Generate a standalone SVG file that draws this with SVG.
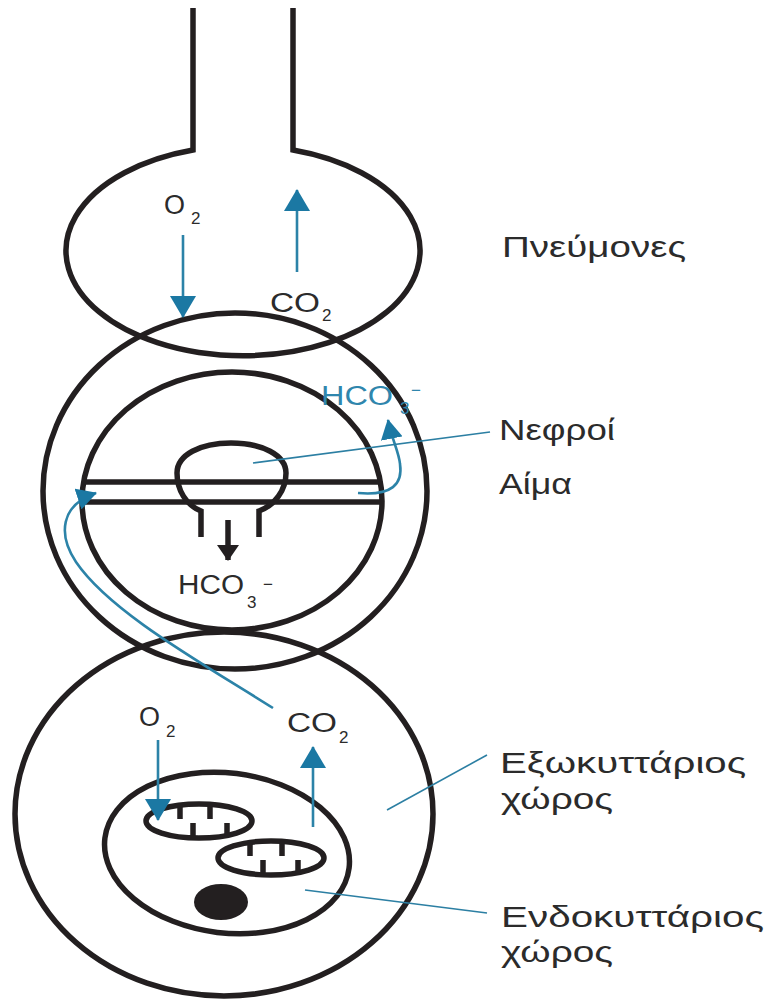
<svg xmlns="http://www.w3.org/2000/svg" width="771" height="1000" viewBox="0 0 771 1000">
  <style>
    .ol { fill: none; stroke: #231f20; stroke-width: 5.5; }
    .flow { fill: none; stroke: #2c83a8; stroke-width: 2.6; }
    .lead { fill: none; stroke: #2c7fa3; stroke-width: 1.6; }
    .lbl { font-family: "Liberation Sans", Arial, sans-serif; font-size: 30px; fill: #2b2b2b; }
    .chem { font-family: "Liberation Sans", Arial, sans-serif; font-size: 27px; fill: #2b2b2b; }
    .sub { font-family: "Liberation Sans", Arial, sans-serif; font-size: 17px; fill: #2b2b2b; }
    .blue { fill: #2f86ad; }
  </style>
  <defs>
    <marker id="headBlue" markerUnits="userSpaceOnUse" markerWidth="22" markerHeight="26" viewBox="0 0 22 26" refX="21" refY="13" orient="auto">
      <path d="M0,0 L22,13 L0,26 Z" fill="#1b78a3"/>
    </marker>
    <marker id="headBlueSm" markerUnits="userSpaceOnUse" markerWidth="20" markerHeight="22" viewBox="0 0 20 22" refX="19" refY="11" orient="auto">
      <path d="M0,0 L20,11 L0,22 Z" fill="#1b78a3"/>
    </marker>
    <marker id="headBlack" markerUnits="userSpaceOnUse" markerWidth="16" markerHeight="22" viewBox="0 0 16 22" refX="15" refY="11" orient="auto">
      <path d="M0,0 L16,11 L0,22 Z" fill="#231f20"/>
    </marker>
  </defs>

  <rect width="771" height="1000" fill="#ffffff"/>

  <!-- Lungs: airway and alveolar sac -->
  <g id="lungs">
    <path class="ol" d="M193,8 V150 A177,105 0 1 0 293,150 V8"/>
  </g>

  <!-- Blood compartment (outer ring) -->
  <g id="blood">
    <ellipse class="ol" cx="235" cy="491" rx="192" ry="178"/>
  </g>

  <!-- Kidney compartment with vessel and glomerulus -->
  <g id="kidneys">
    <ellipse class="ol" cx="232" cy="501" rx="150" ry="129"/>
    <line class="ol" x1="84" y1="482" x2="380" y2="482"/>
    <line class="ol" x1="83" y1="502" x2="381" y2="502"/>
    <path class="ol" d="M201,537 V511 C186,505 177,490 177,473 C177,455 200,443 231,443 C262,443 286,455 286,473 C286,490 275,505 259,511 V537"/>
  </g>

  <!-- Tissue: extracellular space -->
  <g id="extracellular">
    <ellipse class="ol" cx="224" cy="814" rx="209" ry="182"/>
  </g>

  <!-- Cell: intracellular space, mitochondria, nucleus -->
  <g id="cell">
    <ellipse class="ol" cx="227" cy="853" rx="123" ry="80" transform="rotate(7 227 853)"/>
    <ellipse class="ol" cx="199" cy="821" rx="53" ry="17"/>
    <path class="ol" d="M180,806 V819 M210,806 V819 M193,823 V836 M227,823 V836"/>
    <ellipse class="ol" cx="271" cy="858" rx="53" ry="17"/>
    <path class="ol" d="M250,843 V856 M282,843 V856 M263,860 V873 M298,860 V873"/>
    <ellipse cx="221" cy="902" rx="27" ry="18" fill="#231f20"/>
  </g>

  <!-- Connectors: gas / ion flows and label leaders -->
  <g id="connectors">
    <line class="flow" x1="183" y1="235" x2="183" y2="317" marker-end="url(#headBlue)"/>
    <line class="flow" x1="297" y1="272" x2="297" y2="190" marker-end="url(#headBlue)"/>
    <line class="flow" x1="158" y1="740" x2="158" y2="820" marker-end="url(#headBlue)"/>
    <line class="flow" x1="313" y1="827" x2="313" y2="747" marker-end="url(#headBlue)"/>
    <path class="flow" d="M273,708 C200,662 110,612 76,562 C58,535 60,505 96,493" marker-end="url(#headBlueSm)"/>
    <path class="flow" d="M358,493 C392,496 403,484 400,464 C399,452 392,440 388,420" marker-end="url(#headBlueSm)"/>
    <line class="ol" x1="228" y1="520" x2="228" y2="560" marker-end="url(#headBlack)"/>
    <line class="lead" x1="253" y1="463" x2="490" y2="432"/>
    <line class="lead" x1="387" y1="810" x2="487" y2="755"/>
    <line class="lead" x1="305" y1="890" x2="487" y2="913"/>
  </g>

  <!-- Chemical species -->
  <g id="species">
    <text class="chem" x="164" y="214">O</text>
    <text class="sub" x="191" y="224">2</text>
    <text class="chem" x="270" y="312" textLength="50" lengthAdjust="spacingAndGlyphs">CO</text>
    <text class="sub" x="322" y="321">2</text>
    <text class="chem" x="139" y="726">O</text>
    <text class="sub" x="166" y="737">2</text>
    <text class="chem" x="287" y="732" textLength="50" lengthAdjust="spacingAndGlyphs">CO</text>
    <text class="sub" x="339" y="743">2</text>
    <text class="chem" x="178" y="594" textLength="66" lengthAdjust="spacingAndGlyphs">HCO</text>
    <text class="sub" x="247" y="608">3</text>
    <text class="sub" x="263" y="590" font-size="21">−</text>
    <text class="chem blue" x="321" y="405" textLength="72" lengthAdjust="spacingAndGlyphs">HCO</text>
    <text class="sub blue" x="400" y="414">3</text>
    <text class="sub blue" x="411" y="396" font-size="21">−</text>
  </g>

  <!-- Compartment labels -->
  <g id="labels">
    <text class="lbl" x="502" y="257" textLength="184" lengthAdjust="spacingAndGlyphs">Πνεύμονες</text>
    <text class="lbl" x="499" y="440" textLength="116" lengthAdjust="spacingAndGlyphs">Νεφροί</text>
    <text class="lbl" x="499" y="494" textLength="73" lengthAdjust="spacingAndGlyphs">Αίμα</text>
    <text class="lbl" x="500" y="773" textLength="246" lengthAdjust="spacingAndGlyphs">Εξωκυττάριος</text>
    <text class="lbl" x="501" y="809" textLength="112" lengthAdjust="spacingAndGlyphs">χώρος</text>
    <text class="lbl" x="501" y="927" textLength="263" lengthAdjust="spacingAndGlyphs">Ενδοκυττάριος</text>
    <text class="lbl" x="501" y="962" textLength="112" lengthAdjust="spacingAndGlyphs">χώρος</text>
  </g>
</svg>
